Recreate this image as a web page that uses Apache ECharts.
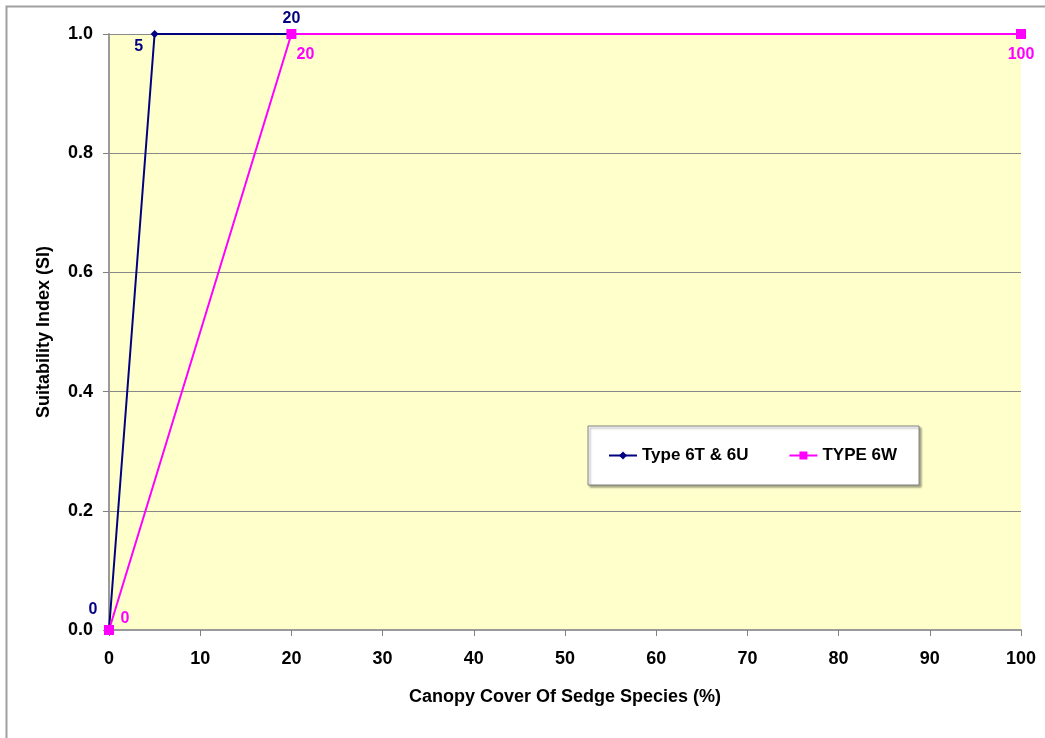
<!doctype html>
<html lang="en">
<head>
    <meta charset="UTF-8">
    <title>sedge canopy SI</title>
    <style>
        html, body{margin:0; padding:0; background:#fff;}
        #chart{width:1045px; height:738px;}
    </style>
</head>
<body>
<div id="chart"></div>
<script src="https://cdn.jsdelivr.net/npm/echarts@6/dist/echarts.min.js"></script>
<script>
    // canopy cover (%) and SI values
    var coverT = [0, 5, 20];
    var siT = [0, 1, 1];
    var coverW = [0, 20, 100];
    var siW = [0, 1, 1];
    var names = ['Type 6T & 6U', 'TYPE 6W'];

    // label offsets from each point
    var offT = [[-16, -20], [-16, 13], [0, -15]];
    var offW = [[16, -11], [14, 21], [0, 21]];

    function pts(xs, ys, off, color) {
        return xs.map(function (x, i) {
            return {
                value: [x, ys[i]],
                label: {show: true, position: 'inside', offset: off[i], color: color,
                        fontWeight: 'bold', fontSize: 16, fontFamily: 'Liberation Sans',
                        formatter: String(x)}
            };
        });
    }

    var chart = echarts.init(document.getElementById('chart'));
    chart.setOption({
        animation: false,
        textStyle: {fontFamily: 'Liberation Sans'},
        graphic: [{
            type: 'rect', shape: {x: 6.5, y: 6.5, width: 1100, height: 800},
            style: {fill: 'none', stroke: '#a0a0a0', lineWidth: 2}, silent: true, z: -10
        }],
        grid: {left: 109, right: 24, top: 34, bottom: 108,
               show: true, backgroundColor: '#ffffcc', borderWidth: 0},
        legend: {
            orient: 'horizontal',
            left: 588, top: 426,
            padding: [21, 22, 21, 20],
            backgroundColor: '#fff', borderColor: '#808080', borderWidth: 1,
            shadowColor: 'rgba(0,0,0,0.35)', shadowOffsetX: 2, shadowOffsetY: 2, shadowBlur: 2,
            itemWidth: 28, itemHeight: 10, itemGap: 40,
            textStyle: {fontSize: 17, fontWeight: 'bold', color: '#000', fontFamily: 'Liberation Sans'},
            data: names
        },
        xAxis: {
            type: 'value', min: 0, max: 100, interval: 10,
            name: 'Canopy Cover Of Sedge Species (%)', nameLocation: 'middle', nameGap: 58,
            nameTextStyle: {fontSize: 18, fontWeight: 'bold', color: '#000'},
            axisLine: {lineStyle: {color: '#9a9a9a', width: 2}},
            axisTick: {show: true, length: 6, lineStyle: {color: '#808080'}},
            axisLabel: {fontSize: 18, fontWeight: 'bold', color: '#000', margin: 20},
            splitLine: {show: false}
        },
        yAxis: {
            type: 'value', min: 0, max: 1, interval: 0.2,
            name: 'Suitability Index (SI)', nameLocation: 'middle', nameGap: 56,
            nameTextStyle: {fontSize: 18, fontWeight: 'bold', color: '#000'},
            axisLine: {show: true, lineStyle: {color: '#9a9a9a', width: 2}},
            axisTick: {show: true, length: 6, lineStyle: {color: '#808080'}},
            axisLabel: {fontSize: 18, fontWeight: 'bold', color: '#000', margin: 16,
                        formatter: function (v) { return v.toFixed(1); }},
            splitLine: {show: true, lineStyle: {color: '#888', width: 1}}
        },
        series: [
            {
                name: names[0], type: 'line', z: 2,
                symbol: 'diamond', symbolSize: 8,
                lineStyle: {color: '#000080', width: 2},
                itemStyle: {color: '#000080'},
                data: pts(coverT, siT, offT, '#000080')
            },
            {
                name: names[1], type: 'line', z: 3,
                symbol: 'rect', symbolSize: 10,
                lineStyle: {color: '#ff00ff', width: 2},
                itemStyle: {color: '#ff00ff'},
                data: pts(coverW, siW, offW, '#ff00ff')
            }
        ]
    });
</script>
</body>
</html>
